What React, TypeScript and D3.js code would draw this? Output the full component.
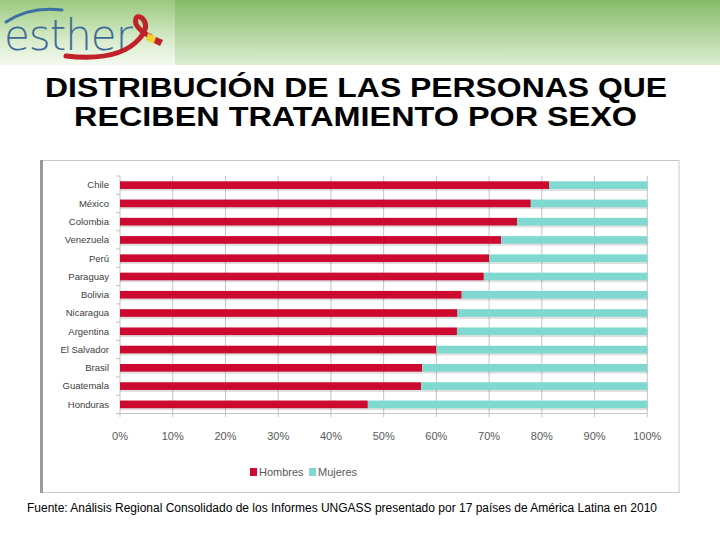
import React from 'react'
import * as d3 from 'd3'

const countries = [
  'Chile', 'México', 'Colombia', 'Venezuela', 'Perú', 'Paraguay', 'Bolivia',
  'Nicaragua', 'Argentina', 'El Salvador', 'Brasil', 'Guatemala', 'Honduras',
]
// share of men (%) per country; women take the remainder up to 100
const hombres = [81.4, 77.9, 75.3, 72.3, 70.0, 69.0, 64.8, 64.0, 63.9, 60.0, 57.3, 57.1, 47.0]
const mujeres = hombres.map(h => 100 - h)
const ticks = [0, 10, 20, 30, 40, 50, 60, 70, 80, 90, 100]
const seriesNames = ['Hombres', 'Mujeres']
const seriesColors = ['#cc0a2f', '#80d9d1']

const W = 720
const H = 540

export default function App() {
  const x = d3.scaleLinear().domain([0, 100]).range([120, 647.3])
  const y = d3.scaleBand().domain(countries).range([176, 413.5]).paddingInner(0.58).paddingOuter(0.29)

  const stack = d3.stack<number>().keys(['h', 'm'])
  const rows = countries.map((_, i) => ({ h: hombres[i], m: mujeres[i] })) as any
  const layers = stack(rows)

  const bh = y.bandwidth()
  const step = y.step()

  return (
    <svg width={W} height={H} style={{ position: 'absolute', left: 0, top: 0, fontFamily: 'Liberation Sans, Arial, sans-serif' }}>
      <defs>
        <linearGradient id="hdr" x1="0" y1="0" x2="0" y2="1">
          <stop offset="0" stopColor="#86bc68" />
          <stop offset="1" stopColor="#dcedd2" />
        </linearGradient>
        <linearGradient id="logo" x1="0" y1="0" x2="0" y2="1">
          <stop offset="0" stopColor="#9ac97f" />
          <stop offset="0.6" stopColor="#d6ebc9" />
          <stop offset="1" stopColor="#f4f9f0" />
        </linearGradient>
      </defs>
      <rect x={0} y={0} width={W} height={H} fill="#ffffff" />

      {/* header band with logo */}
      <rect x={0} y={0} width={W} height={65} fill="url(#hdr)" />
      <rect x={0} y={0} width={175} height={65} fill="url(#logo)" />
      <path d="M6,22 Q30,6 62,10" fill="none" stroke="#3d6fa3" strokeWidth={3} strokeLinecap="round" />
      <text x={4} y={50} fontSize={42} fill="#3f6c96" fontFamily="DejaVu Sans, sans-serif" fontWeight={300} letterSpacing={-1}>esther</text>
      <path d="M66,56 Q120,62 140,38 Q150,26 142,18 Q134,14 136,24 Q140,32 150,36" fill="none" stroke="#c0212b" strokeWidth={5} strokeLinecap="round" />
      <path d="M148,33 L158,38 L155,44 L146,40 Z" fill="#f2d22e" />
      <path d="M156,37 L163,40 L160,46 L154,43 Z" fill="#c0212b" />

      {/* title */}
      <text x={45} y={97} fontSize={27} fontWeight="bold" fill="#000" textLength={622} lengthAdjust="spacingAndGlyphs">DISTRIBUCIÓN DE LAS PERSONAS QUE</text>
      <text x={74} y={126} fontSize={27} fontWeight="bold" fill="#000" textLength={563} lengthAdjust="spacingAndGlyphs">RECIBEN TRATAMIENTO POR SEXO</text>

      {/* chart frame */}
      <rect x={41} y={160.5} width={638} height={332} fill="#ffffff" stroke="#c8c8c8" strokeWidth={1} />
      <line x1={41.5} y1={160} x2={41.5} y2={493} stroke="#9a9a9a" strokeWidth={3} />

      {/* gridlines */}
      {ticks.map(t => (
        <line key={t} x1={x(t)} x2={x(t)} y1={176} y2={413.5} stroke="#c4c4c4" strokeWidth={1} />
      ))}
      {/* category tick marks */}
      {d3.range(countries.length + 1).map(i => (
        <line key={i} x1={116} x2={120} y1={176 + i * step} y2={176 + i * step} stroke="#c4c4c4" />
      ))}
      <line x1={120} x2={647.3} y1={413.5} y2={413.5} stroke="#c4c4c4" />
      {ticks.map(t => (
        <line key={'b' + t} x1={x(t)} x2={x(t)} y1={413.5} y2={417} stroke="#c4c4c4" />
      ))}

      {/* bars with a soft shadow underneath */}
      {layers.map((layer, li) => (
        <g key={li}>
          {layer.map((d, i) => (
            <g key={i}>
              <rect x={x(d[0])} y={(y(countries[i]) as number) + 2} width={x(d[1]) - x(d[0])} height={bh} fill="#000" opacity={0.12} />
              <rect x={x(d[0])} y={y(countries[i])} width={x(d[1]) - x(d[0])} height={bh} fill={seriesColors[li]} />
            </g>
          ))}
        </g>
      ))}

      {/* category labels */}
      {countries.map(c => (
        <text key={c} x={109} y={(y(c) as number) + bh / 2} dy="0.35em" textAnchor="end" fontSize={9.5} fill="#404040" fontFamily="Liberation Sans Narrow, Liberation Sans, sans-serif">{c}</text>
      ))}

      {/* x tick labels */}
      {ticks.map(t => (
        <text key={t} x={x(t)} y={436} dy="0.35em" textAnchor="middle" fontSize={11} fill="#595959">{t}%</text>
      ))}

      {/* legend */}
      {seriesNames.map((n, i) => (
        <g key={n} transform={`translate(${i === 0 ? 250 : 309},472)`}>
          <rect x={0} y={-4} width={7} height={8} fill={seriesColors[i]} />
          <text x={9} y={0} dy="0.35em" fontSize={11} fill="#595959">{n}</text>
        </g>
      ))}

      {/* source note */}
      <text x={27} y={512} fontSize={12} fill="#000" textLength={630}>Fuente: Análisis Regional Consolidado de los Informes UNGASS presentado por 17 países de América Latina en 2010</text>
    </svg>
  )
}
